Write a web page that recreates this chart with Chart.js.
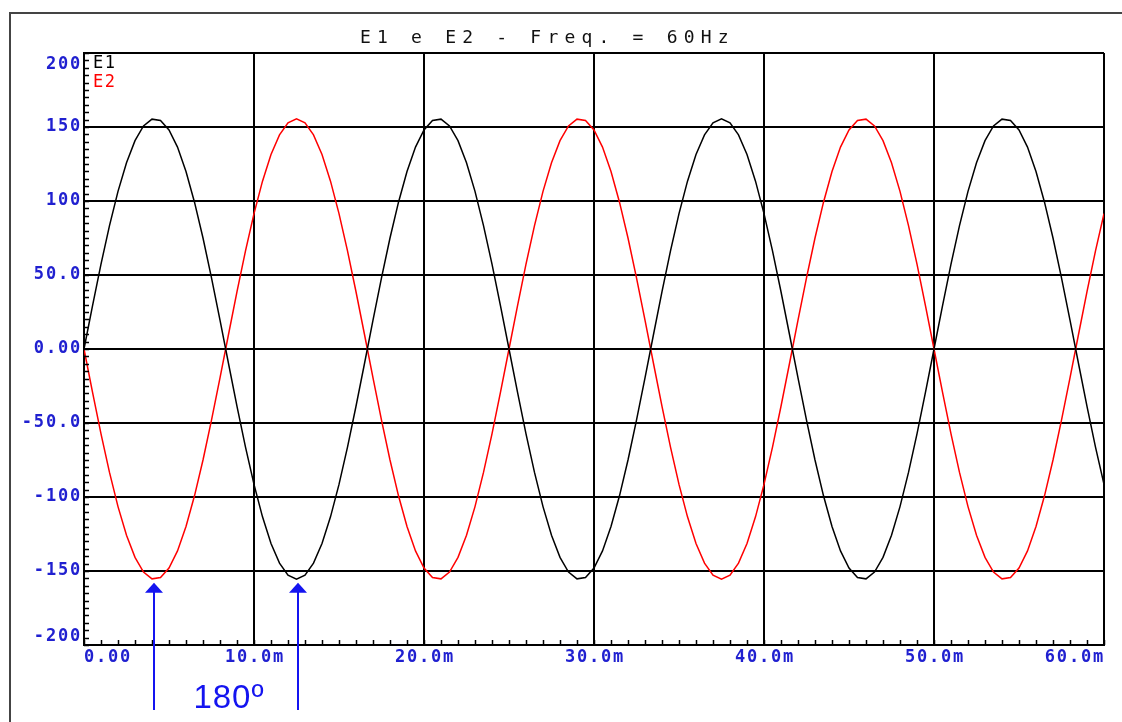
<!DOCTYPE html>
<html lang="en">
  <head>
    <meta charset="UTF-8" />
    <title>E1 e E2 - Freq. = 60Hz</title>
    <script src="https://cdn.jsdelivr.net/npm/chart.js"></script>
    <style>
      html,
      body {
        margin: 0;
        padding: 0;
        background: #fff;
      }
      #chartContainer {
        width: 1122px;
        height: 722px;
      }
    </style>
  </head>
  <body>
    <div id="chartContainer">
      <canvas id="myChart" width="1122" height="722"></canvas>
    </div>

    <script>
      // sample times in ms
      const timeMs = [
        0, 0.5, 1, 1.5, 2, 2.5, 3, 3.5, 4, 4.5, 5, 5.5, 6, 6.5, 7, 7.5, 8, 8.5,
        9, 9.5, 10, 10.5, 11, 11.5, 12, 12.5, 13, 13.5, 14, 14.5, 15, 15.5, 16,
        16.5, 17, 17.5, 18, 18.5, 19, 19.5, 20, 20.5, 21, 21.5, 22, 22.5, 23,
        23.5, 24, 24.5, 25, 25.5, 26, 26.5, 27, 27.5, 28, 28.5, 29, 29.5, 30,
        30.5, 31, 31.5, 32, 32.5, 33, 33.5, 34, 34.5, 35, 35.5, 36, 36.5, 37,
        37.5, 38, 38.5, 39, 39.5, 40, 40.5, 41, 41.5, 42, 42.5, 43, 43.5, 44,
        44.5, 45, 45.5, 46, 46.5, 47, 47.5, 48, 48.5, 49, 49.5, 50, 50.5, 51,
        51.5, 52, 52.5, 53, 53.5, 54, 54.5, 55, 55.5, 56, 56.5, 57, 57.5, 58,
        58.5, 59, 59.5, 60,
      ];

      const e1Values = [
        0, 29.2, 57.3, 83.4, 106.5, 125.9, 140.8, 150.7, 155.3, 154.4, 148.0,
        136.4, 119.9, 99.2, 75.0, 48.1, 19.5, -9.8, -38.7, -66.3, -91.5,
        -113.4, -131.4, -144.7, -152.8, -155.6, -152.8, -144.7, -131.4, -113.4,
        -91.5, -66.3, -38.7, -9.8, 19.5, 48.1, 75.0, 99.2, 119.9, 136.4, 148.0,
        154.4, 155.3, 150.7, 140.8, 125.9, 106.5, 83.4, 57.3, 29.2, 0,
        -29.2, -57.3, -83.4, -106.5, -125.9, -140.8, -150.7, -155.3, -154.4,
        -148.0, -136.4, -119.9, -99.2, -75.0, -48.1, -19.5, 9.8, 38.7, 66.3,
        91.5, 113.4, 131.4, 144.7, 152.8, 155.6, 152.8, 144.7, 131.4, 113.4,
        91.5, 66.3, 38.7, 9.8, -19.5, -48.1, -75.0, -99.2, -119.9, -136.4,
        -148.0, -154.4, -155.3, -150.7, -140.8, -125.9, -106.5, -83.4, -57.3,
        -29.2, 0,
        29.2, 57.3, 83.4, 106.5, 125.9, 140.8, 150.7, 155.3, 154.4, 148.0,
        136.4, 119.9, 99.2, 75.0, 48.1, 19.5, -9.8, -38.7, -66.3, -91.5,
      ];

      const e2Values = [
        0, -29.2, -57.3, -83.4, -106.5, -125.9, -140.8, -150.7, -155.3, -154.4,
        -148.0, -136.4, -119.9, -99.2, -75.0, -48.1, -19.5, 9.8, 38.7, 66.3,
        91.5, 113.4, 131.4, 144.7, 152.8, 155.6, 152.8, 144.7, 131.4, 113.4,
        91.5, 66.3, 38.7, 9.8, -19.5, -48.1, -75.0, -99.2, -119.9, -136.4,
        -148.0, -154.4, -155.3, -150.7, -140.8, -125.9, -106.5, -83.4, -57.3,
        -29.2, 0,
        29.2, 57.3, 83.4, 106.5, 125.9, 140.8, 150.7, 155.3, 154.4, 148.0,
        136.4, 119.9, 99.2, 75.0, 48.1, 19.5, -9.8, -38.7, -66.3, -91.5,
        -113.4, -131.4, -144.7, -152.8, -155.6, -152.8, -144.7, -131.4, -113.4,
        -91.5, -66.3, -38.7, -9.8, 19.5, 48.1, 75.0, 99.2, 119.9, 136.4, 148.0,
        154.4, 155.3, 150.7, 140.8, 125.9, 106.5, 83.4, 57.3, 29.2, 0,
        -29.2, -57.3, -83.4, -106.5, -125.9, -140.8, -150.7, -155.3, -154.4,
        -148.0, -136.4, -119.9, -99.2, -75.0, -48.1, -19.5, 9.8, 38.7, 66.3,
        91.5,
      ];

      const seriesNames = ["E1", "E2"];
      const seriesColors = ["#000000", "#ff0000"];
      const yTickLabels = ["-200", "-150", "-100", "-50.0", "0.00", "50.0", "100", "150", "200"];
      const xTickLabels = ["0.00", "10.0m", "20.0m", "30.0m", "40.0m", "50.0m", "60.0m"];
      const titleText = "E1 e E2 - Freq. = 60Hz";
      // the two troughs marked by arrows (ms) and the note under them
      const arrowTimes = [4.1, 12.6];
      const arrowTipValue = -158;
      const arrowNote = "180º";

      const labelBlue = "#2020d0";
      const monoFont = "'DejaVu Sans Mono', 'Liberation Mono', monospace";

      const overlay = {
        id: "overlay",
        beforeDraw(chart) {
          const c = chart.ctx;
          c.save();
          c.fillStyle = "#fff";
          c.fillRect(0, 0, chart.width, chart.height);
          // outer frame
          c.strokeStyle = "#444";
          c.lineWidth = 2;
          c.beginPath();
          c.moveTo(10, chart.height);
          c.lineTo(10, 13);
          c.lineTo(chart.width, 13);
          c.stroke();
          c.restore();
        },
        afterDraw(chart) {
          const c = chart.ctx;
          const area = chart.chartArea;
          const xs = chart.scales.x;
          const ys = chart.scales.y;
          c.save();

          // minor ticks
          c.strokeStyle = "#000";
          c.lineWidth = 1.5;
          c.beginPath();
          for (let v = ys.min; v <= ys.max; v += 5) {
            const py = Math.round(ys.getPixelForValue(v)) + 0.5;
            c.moveTo(area.left, py);
            c.lineTo(area.left + 5, py);
          }
          for (let t = xs.min; t <= xs.max; t += 1) {
            const px = Math.round(xs.getPixelForValue(t)) + 0.5;
            c.moveTo(px, area.bottom);
            c.lineTo(px, area.bottom - 5);
          }
          c.stroke();

          // tick labels
          c.fillStyle = labelBlue;
          c.font = "bold 17px " + monoFont;
          c.letterSpacing = "1.8px";
          c.textAlign = "right";
          ys.ticks.forEach((tick, i) => {
            const py = ys.getPixelForValue(tick.value);
            let y = py;
            c.textBaseline = "middle";
            if (i === ys.ticks.length - 1) {
              c.textBaseline = "top";
              y = py + 3;
            } else if (i === 0) {
              c.textBaseline = "bottom";
              y = py;
            }
            c.fillText(yTickLabels[i], area.left - 2, y);
          });
          c.textBaseline = "top";
          xs.ticks.forEach((tick, i) => {
            const px = xs.getPixelForValue(tick.value);
            let x = px + 1;
            c.textAlign = "center";
            if (i === 0) {
              c.textAlign = "left";
              x = px;
            } else if (i === xs.ticks.length - 1) {
              c.textAlign = "right";
              x = px + 1;
            }
            c.fillText(xTickLabels[i], x, area.bottom + 4);
          });

          // title
          c.fillStyle = "#111";
          c.font = "18px " + monoFont;
          c.letterSpacing = "6.2px";
          c.textAlign = "left";
          c.textBaseline = "middle";
          c.fillText(titleText, 360, 38);

          // legend
          c.font = "17px " + monoFont;
          c.letterSpacing = "1.5px";
          seriesNames.forEach((name, i) => {
            c.fillStyle = seriesColors[i];
            c.fillText(name, area.left + 9, area.top + 11 + i * 19);
          });

          // arrows
          c.letterSpacing = "0px";
          c.strokeStyle = "#1414f0";
          c.fillStyle = "#1414f0";
          c.lineWidth = 2;
          const tipY = ys.getPixelForValue(arrowTipValue);
          arrowTimes.forEach((t) => {
            const px = Math.round(xs.getPixelForValue(t));
            c.beginPath();
            c.moveTo(px, tipY + 6);
            c.lineTo(px, 710);
            c.stroke();
            c.beginPath();
            c.moveTo(px, tipY);
            c.lineTo(px - 9, tipY + 10);
            c.lineTo(px + 9, tipY + 10);
            c.closePath();
            c.fill();
          });
          const midX =
            (xs.getPixelForValue(arrowTimes[0]) +
              xs.getPixelForValue(arrowTimes[1])) / 2;
          c.font = "33px 'Liberation Sans', Arial, sans-serif";
          c.letterSpacing = "1px";
          c.textAlign = "center";
          c.textBaseline = "middle";
          c.fillText(arrowNote, midX + 3, 699);

          c.restore();
        },
      };

      const ctx = document.getElementById("myChart").getContext("2d");
      const myChart = new Chart(ctx, {
        type: "line",
        data: {
          datasets: seriesNames.map((name, s) => ({
            label: name,
            data: timeMs.map((t, i) => ({
              x: t,
              y: (s === 0 ? e1Values : e2Values)[i],
            })),
            borderColor: seriesColors[s],
            borderWidth: 1.5,
            pointRadius: 0,
            tension: 0,
            fill: false,
          })),
        },
        options: {
          responsive: false,
          animation: false,
          layout: {
            padding: { top: 53, right: 18, left: 0, bottom: 0 },
          },
          plugins: {
            legend: { display: false },
            title: { display: false },
            tooltip: { enabled: false },
          },
          scales: {
            x: {
              type: "linear",
              min: 0,
              max: 60,
              ticks: { stepSize: 10, display: false },
              grid: { color: "#000", lineWidth: 2, drawTicks: false },
              border: { color: "#000", width: 2 },
              afterFit(scale) {
                scale.height = 77;
              },
            },
            y: {
              min: -200,
              max: 200,
              ticks: { stepSize: 50, display: false },
              grid: { color: "#000", lineWidth: 2, drawTicks: false },
              border: { color: "#000", width: 2 },
              afterFit(scale) {
                scale.width = 84;
              },
            },
          },
        },
        plugins: [overlay],
      });
    </script>
  </body>
</html>
